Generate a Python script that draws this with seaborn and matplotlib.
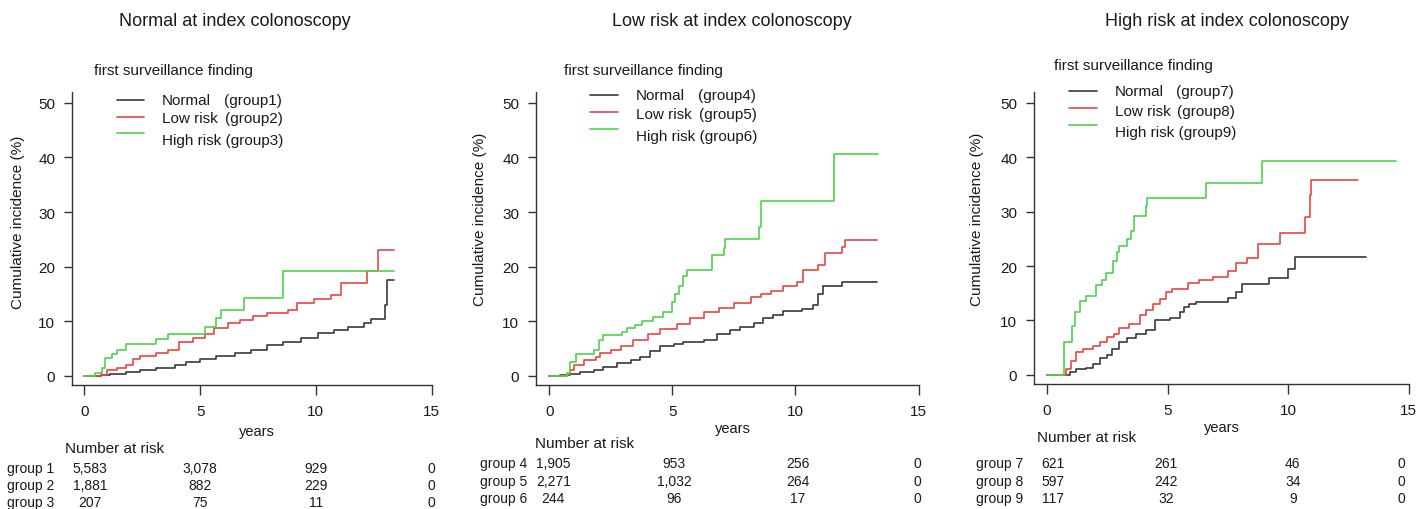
import pandas as pd
import matplotlib
matplotlib.use("Agg")
import matplotlib.pyplot as plt
import matplotlib.transforms as mtransforms
from matplotlib.lines import Line2D
import seaborn as sns

# ---- data (years, cumulative incidence %) ----
# Normal at index colonoscopy
g1_t = [0, 0.5, 0.7, 1.1, 1.8, 2.4, 3.1, 3.9, 4.4, 5.0, 5.7, 6.5, 7.2, 7.9, 8.6, 9.35, 10.1, 10.8, 11.4, 12.1, 12.4, 13.0, 13.06, 13.37]
g1_v = [0, 0, 0.1, 0.4, 0.6, 1.1, 1.5, 2.0, 2.5, 3.1, 3.6, 4.2, 4.8, 5.6, 6.1, 6.9, 7.8, 8.3, 9.0, 9.6, 10.4, 13.0, 17.5, 17.5]
g2_t = [0, 0.55, 0.7, 0.97, 1.4, 1.8, 2.1, 2.4, 3.1, 3.6, 4.1, 4.7, 5.2, 5.6, 6.2, 6.7, 7.3, 7.9, 8.8, 9.2, 9.9, 10.65, 11.1, 12.2, 12.7, 13.37]
g2_v = [0, 0, 0.2, 1.0, 1.5, 2.0, 3.0, 3.6, 4.2, 4.8, 6.2, 7.0, 7.6, 8.8, 9.7, 10.2, 10.9, 11.5, 12.0, 13.3, 14.0, 14.8, 17.0, 19.2, 23.0, 23.0]
g3_t = [0, 0.46, 0.75, 0.9, 1.2, 1.4, 1.8, 3.1, 3.6, 5.2, 5.7, 5.9, 6.9, 8.6, 13.37]
g3_v = [0, 0.55, 1.5, 3.3, 4.0, 4.7, 5.9, 6.7, 7.6, 9.0, 10.5, 12.0, 14.3, 19.2, 19.2]

# Low risk at index colonoscopy
g4_t = [0, 0.45, 0.85, 1.26, 1.8, 2.2, 2.75, 3.3, 3.7, 4.1, 4.5, 5.05, 5.45, 6.3, 6.8, 7.35, 7.75, 8.3, 8.7, 9.1, 9.5, 10.25, 10.7, 10.9, 11.1, 11.9, 13.33]
g4_v = [0, 0.2, 0.4, 0.7, 1.0, 1.6, 2.3, 2.8, 3.5, 4.6, 5.5, 5.8, 6.2, 6.5, 7.6, 8.3, 9.0, 9.7, 10.6, 11.2, 11.9, 12.2, 13.0, 15.0, 16.4, 17.1, 17.1]
g5_t = [0, 0.7, 0.85, 0.99, 1.4, 1.9, 2.07, 2.5, 2.9, 3.4, 4.0, 4.5, 5.2, 5.7, 6.3, 6.9, 7.5, 8.2, 8.6, 9.0, 9.5, 10.05, 10.3, 10.9, 11.2, 11.9, 12.0, 13.33]
g5_v = [0, 0.2, 1.0, 2.0, 2.8, 3.5, 4.2, 4.7, 5.5, 6.5, 7.6, 8.6, 9.5, 10.5, 11.7, 12.5, 13.3, 14.4, 15.0, 15.6, 16.4, 17.2, 19.3, 20.3, 22.5, 23.6, 24.8, 24.8]
g6_t = [0, 0.7, 0.85, 1.1, 1.8, 2.0, 2.2, 2.95, 3.15, 3.5, 3.75, 4.2, 4.6, 5.0, 5.1, 5.25, 5.45, 5.6, 6.6, 7.1, 7.15, 8.5, 8.6, 11.55, 13.37]
g6_v = [0, 0.5, 2.5, 3.9, 4.7, 6.5, 7.4, 8.0, 8.8, 9.3, 10.0, 10.7, 11.6, 13.5, 15.0, 16.4, 18.3, 19.3, 22.2, 23.5, 25.0, 27.3, 32.1, 40.6, 40.6]

# High risk at index colonoscopy
g7_t = [0, 0.6, 0.94, 1.2, 1.6, 1.9, 2.2, 2.5, 2.7, 3.0, 3.3, 3.7, 4.1, 4.5, 5.1, 5.5, 5.7, 5.9, 6.2, 7.5, 7.85, 8.1, 9.2, 10.0, 10.3, 13.25]
g7_v = [0, 0, 0.5, 1.0, 1.3, 2.0, 3.0, 3.7, 4.8, 6.1, 6.8, 7.5, 8.2, 10.0, 10.5, 11.5, 12.5, 13.0, 13.4, 14.2, 15.3, 16.6, 17.8, 19.5, 21.7, 21.7]
g8_t = [0, 0.6, 0.8, 1.0, 1.2, 1.5, 1.9, 2.2, 2.5, 2.8, 3.0, 3.4, 3.85, 4.1, 4.4, 4.7, 4.95, 5.2, 5.85, 6.3, 6.9, 7.5, 7.85, 8.3, 8.75, 9.65, 10.7, 10.9, 10.97, 12.9]
g8_v = [0, 0, 1.0, 2.5, 4.2, 4.8, 5.2, 6.1, 7.0, 7.5, 8.6, 9.3, 11.0, 11.9, 13.0, 14.0, 15.2, 15.7, 16.9, 17.4, 18.0, 19.0, 20.6, 21.5, 24.0, 26.0, 29.0, 33.0, 35.9, 35.9]
g9_t = [0, 0.53, 0.7, 1.05, 1.15, 1.35, 1.6, 2.05, 2.3, 2.45, 2.75, 2.9, 3.0, 3.3, 3.5, 3.6, 4.1, 4.15, 6.6, 8.9, 14.5]
g9_v = [0, 0, 6.0, 9.0, 11.5, 13.5, 14.5, 16.5, 17.5, 18.8, 21.0, 22.5, 23.7, 24.9, 26.5, 29.2, 31.0, 32.5, 35.3, 39.4, 39.4]

titles = ["Normal at index colonoscopy", "Low risk at index colonoscopy", "High risk at index colonoscopy"]
findings = ["Normal", "Low risk", "High risk"]
group_ids = [[1, 2, 3], [4, 5, 6], [7, 8, 9]]

# number at risk at 0, 5, 10, 15 years
risk_p1 = [["5,583", "3,078", "929", "0"], ["1,881", "882", "229", "0"], ["207", "75", "11", "0"]]
risk_p2 = [["1,905", "953", "256", "0"], ["2,271", "1,032", "264", "0"], ["244", "96", "17", "0"]]
risk_p3 = [["621", "261", "46", "0"], ["597", "242", "34", "0"], ["117", "32", "9", "0"]]

curves = [[(g1_t, g1_v), (g2_t, g2_v), (g3_t, g3_v)],
          [(g4_t, g4_v), (g5_t, g5_v), (g6_t, g6_v)],
          [(g7_t, g7_v), (g8_t, g8_v), (g9_t, g9_v)]]
risks = [risk_p1, risk_p2, risk_p3]

# ---- layout (pixel positions in the 1424x510 canvas) ----
W, H = 1424, 510
colors = ["#3a3a3a", "#e84646", "#4fd24f"]
axes_px = [(72, 432, 93, 386), (536, 919, 93, 386), (1034, 1409, 93, 385)]
title_x = [235, 732, 1227]
sub_pos = [(94, 70.7), (564, 70.7), (1054, 65.7)]
leg_line_x = [(117, 144), (590, 618), (1069, 1097)]
leg_line_y = [(101, 117.7, 134), (96, 113, 130), (92, 109, 125.7)]
leg_text_x = [(162, (224, 225)), (636, (698, 699)), (1115, (1176, 1177))]
leg_text_y = [(101, 119.3, 141), (96, 115, 137), (92.3, 111.7, 133)]
ylab_pos = [(18, 222), (480, 219), (977, 219)]
xlab_pos = [(257, 432), (733, 429), (1222, 428)]
nar_pos = [(65, 449), (535, 444), (1037, 438)]
row_x = [7, 480, 976]
row_y = [(469, 486, 503), (464, 482, 499), (464, 482, 499)]
col_t = [[0.25, 5.0, 10.0, 15.0], [0.16, 5.08, 10.1, 14.95], [0.24, 4.95, 10.2, 14.7]]


def fx(px):
    return px / W


def fy(py):
    return 1 - py / H


sns.set_style("white")
plt.rcParams["font.family"] = ["Liberation Sans", "DejaVu Sans"]
plt.rcParams["text.color"] = "#1a1a1a"

fig = plt.figure(figsize=(W / 100, H / 100), dpi=100)

for i in range(3):
    l, r, t, b = axes_px[i]
    ax = fig.add_axes([fx(l), fy(b), fx(r - l), (b - t) / H])

    frames = []
    for j, (tt, vv) in enumerate(curves[i]):
        frames.append(pd.DataFrame({"years": tt, "incidence": vv, "group": findings[j]}))
    df = pd.concat(frames, ignore_index=True)

    sns.lineplot(data=df, x="years", y="incidence", hue="group", hue_order=findings,
                 palette=colors, drawstyle="steps-post", estimator=None, sort=False,
                 legend=False, linewidth=1.2, ax=ax)

    ax.set_xlim(-0.54, 15.02)
    ax.set_ylim(-1.7, 52)
    ax.set_xticks([0, 5, 10, 15])
    ax.set_yticks([0, 10, 20, 30, 40, 50])
    ax.set_xlabel("")
    ax.set_ylabel("")
    for s in ["top", "right"]:
        ax.spines[s].set_visible(False)
    for s in ["left", "bottom"]:
        ax.spines[s].set_color("#333333")
        ax.spines[s].set_linewidth(1.0)
    ax.tick_params(axis="x", direction="out", length=7.5, width=1.0, color="#333333",
                   pad=6, labelsize=11, labelcolor="#1a1a1a", bottom=True)
    ax.tick_params(axis="y", direction="out", length=6, width=1.0, color="#333333",
                   pad=6, labelsize=11, labelcolor="#1a1a1a", left=True)
    ax.grid(False)

    # titles and axis labels
    fig.text(fx(title_x[i]), fy(21.7), titles[i], ha="center", va="center", fontsize=13)
    fig.text(fx(sub_pos[i][0]), fy(sub_pos[i][1]), "first surveillance finding",
             ha="left", va="center", fontsize=11)
    fig.text(fx(ylab_pos[i][0]), fy(ylab_pos[i][1]), "Cumulative incidence (%)",
             rotation=90, ha="center", va="center", fontsize=11)
    fig.text(fx(xlab_pos[i][0]), fy(xlab_pos[i][1]), "years", ha="center", va="center", fontsize=10.5)

    # legend drawn by hand (R style)
    x0, x1 = leg_line_x[i]
    tx, gx = leg_text_x[i]
    for j in range(3):
        ly = leg_line_y[i][j]
        fig.add_artist(Line2D([fx(x0), fx(x1)], [fy(ly), fy(ly)], color=colors[j],
                              linewidth=1.2, transform=fig.transFigure))
        tag = "(group%d)" % group_ids[i][j]
        if j < 2:
            fig.text(fx(tx), fy(leg_text_y[i][j]), findings[j], ha="left", va="center", fontsize=11)
            fig.text(fx(gx[j]), fy(leg_text_y[i][j]), tag, ha="left", va="center", fontsize=11)
        else:
            fig.text(fx(tx), fy(leg_text_y[i][j]), findings[j] + " " + tag,
                     ha="left", va="center", fontsize=11)

    # number at risk table
    fig.text(fx(nar_pos[i][0]), fy(nar_pos[i][1]), "Number at risk", ha="left", va="center", fontsize=11)
    blend = mtransforms.blended_transform_factory(ax.transData, fig.transFigure)
    for j in range(3):
        yy = fy(row_y[i][j])
        fig.text(fx(row_x[i]), yy, "group %d" % group_ids[i][j], ha="left", va="center", fontsize=10)
        for k, val in enumerate(risks[i][j]):
            ax.text(col_t[i][k], yy, val, transform=blend, ha="center", va="center",
                    fontsize=10, clip_on=False)

fig.savefig("out.png", dpi=100)
